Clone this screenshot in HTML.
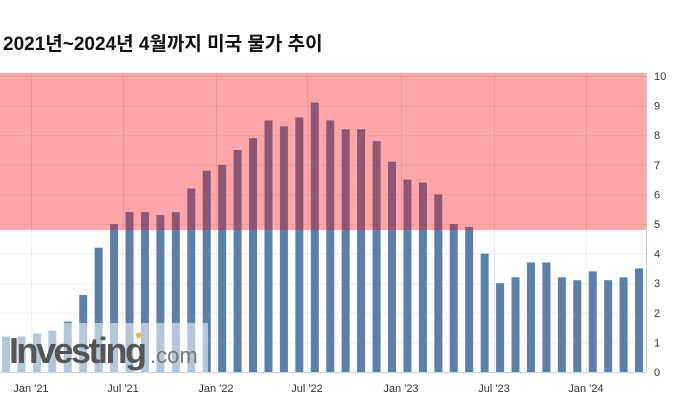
<!DOCTYPE html>
<html><head><meta charset="utf-8"><style>
body{margin:0;background:#fff;width:677px;height:408px;overflow:hidden}
svg{display:block}
</style></head><body>
<svg width="677" height="408" viewBox="0 0 677 408" xmlns="http://www.w3.org/2000/svg">
<text x="3" y="50" font-family="'Liberation Sans','Noto Sans CJK KR',sans-serif" font-size="19" font-weight="bold" fill="#111">2021년~2024년 4월까지 미국 물가 추이</text>
<defs>
<clipPath id="top"><rect x="0" y="0" width="677" height="230"/></clipPath>
<clipPath id="bot"><rect x="0" y="230" width="677" height="200"/></clipPath>
</defs>
<rect x="0" y="73" width="646" height="157" fill="#ffa6aa"/>
<g id="grid" stroke="#000" stroke-opacity="0.07" stroke-width="1">
</g>
<g id="bars"></g>
<line x1="0" y1="372.5" x2="646" y2="372.5" stroke="#c8d3e0"/>
<line x1="646.5" y1="73" x2="646.5" y2="372" stroke="#ccc"/>
<g id="labels" font-family="'Liberation Sans',sans-serif" font-size="11" fill="#333"></g>
<rect x="0" y="323" width="208" height="49" fill="#fff" opacity="0.55"/>
<text x="9" y="363" font-family="'Liberation Sans',sans-serif" font-size="36" font-weight="bold" fill="#555" letter-spacing="-2.5">Investing</text>
<text x="150" y="363" font-family="'Liberation Sans',sans-serif" font-size="22" fill="#777">.com</text>
<rect x="136" y="333" width="5" height="5" fill="#f5b335" transform="rotate(-20 138 335)"/>
</svg>
<script>
var v=[1.2,1.2,1.3,1.4,1.7,2.6,4.2,5.0,5.4,5.4,5.3,5.4,6.2,6.8,7.0,7.5,7.9,8.5,8.3,8.6,9.1,8.5,8.2,8.2,7.8,7.1,6.5,6.4,6.0,5.0,4.9,4.0,3.0,3.2,3.7,3.7,3.2,3.1,3.4,3.1,3.2,3.5];
var ns="http://www.w3.org/2000/svg";
function el(t,a,p){var e=document.createElementNS(ns,t);for(var k in a)e.setAttribute(k,a[k]);p.appendChild(e);return e;}
var g=document.getElementById('grid'),b=document.getElementById('bars'),l=document.getElementById('labels');
for(var i=0;i<=10;i++){var y=372-i*29.6;el('line',{x1:0,x2:646,y1:y+0.5,y2:y+0.5},g);
var t=el('text',{x:654,y:y+4},l);t.textContent=i;}
var xs=[31,123,216,307,401,494,586],lb=["Jan '21","Jul '21","Jan '22","Jul '22","Jan '23","Jul '23","Jan '24"];
xs.forEach(function(x,k){el('line',{x1:x+0.5,x2:x+0.5,y1:73,y2:372},g);
var t=el('text',{x:x,y:392,'text-anchor':'middle'},l);t.textContent=lb[k];});
for(var i=0;i<v.length;i++){var cx=6+i*15.44,y=372-v[i]*29.6;
el('rect',{x:cx-4,y:y,width:8,height:372-y,fill:'#5b80ab','clip-path':'url(#bot)'},b);
el('rect',{x:cx-4,y:y,width:8,height:372-y,fill:'#8e5675','clip-path':'url(#top)'},b);}
</script>
</body></html>
